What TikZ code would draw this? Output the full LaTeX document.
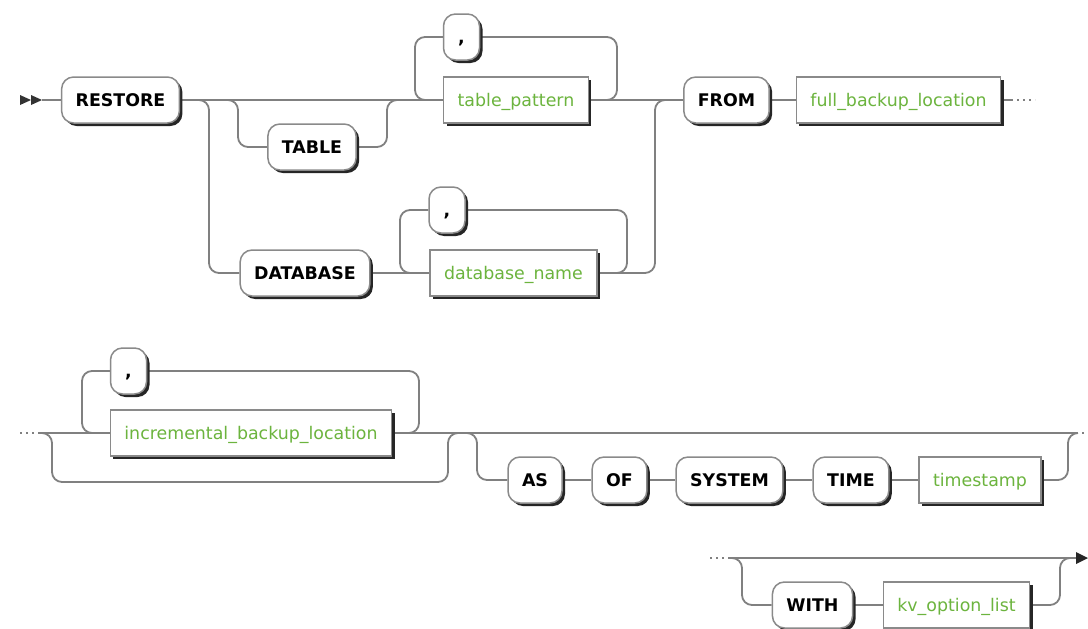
\documentclass[tikz,border=0pt]{standalone}
\usepackage{fontspec}
\setmainfont{DejaVu Sans}
\usepackage{tikz}
\usetikzlibrary{
    shadows,      % Box shadows
    backgrounds   % Tracks behind the boxes
}
\definecolor{TrackGray}{RGB}{128, 128, 128}
\definecolor{BoxGray}{RGB}{138, 138, 138}
\definecolor{NameGreen}{RGB}{108, 180, 62}

\begin{document}
\begin{tikzpicture}[x=1pt, y=-1pt,
    track/.style={draw=TrackGray, line width=1.8pt, rounded corners=10pt},
    cont/.style={draw=TrackGray, line width=1.8pt, dash pattern=on 2pt off 4pt},
    kw/.style={draw=BoxGray, line width=1.5pt, fill=white, rounded corners=12pt,
        minimum height=46pt, inner xsep=14pt, text height=12.6pt, text depth=0pt,
        font=\fontsize{17.4}{20}\selectfont\bfseries,
        general shadow={fill=black!85, shadow xshift=3pt, shadow yshift=-3pt}},
    nt/.style={kw, rounded corners=0pt, text=NameGreen,
        font=\fontsize{17.4}{20}\selectfont},
    sepbox/.style={kw, minimum width=36pt, inner xsep=0pt}]
    \useasboundingbox (0,0) rectangle (1088,629);

    % First line
    \fill[black!80] (20,95) -- (31,100) -- (20,105) -- cycle;
    \fill[black!80] (31,95) -- (42,100) -- (31,105) -- cycle;
    \coordinate (start1) at (42,100);
    \node[kw] (restore) at (120.5,100) {RESTORE};
    \node[kw] (table) at (312,147) {TABLE};
    \node[kw] (database) at (305,273) {DATABASE};
    \node[sepbox] (tpcomma) at (461.5,37) {,};
    \node[nt] (tpattern) at (516,100) {table\_pattern};
    \node[sepbox] (dbcomma) at (447,210) {,};
    \node[nt] (dbname) at (513.5,273) {database\_name};
    \node[kw] (from) at (726.5,100) {FROM};
    \node[nt] (fullbk) at (898.5,100) {full\_backup\_location};

    % Second line
    \coordinate (start2) at (38,433);
    \coordinate (join2) at (462,433);
    \coordinate (end2) at (1078,433);
    \node[sepbox] (inccomma) at (128.5,371) {,};
    \node[nt] (incbk) at (251,433) {incremental\_backup\_location};
    \node[kw] (as) at (535,480) {AS};
    \node[kw] (of) at (619.5,480) {OF};
    \node[kw] (system) at (729.5,480) {SYSTEM};
    \node[kw] (time) at (851,480) {TIME};
    \node[nt] (tstamp) at (980,480) {timestamp};

    % Third line
    \coordinate (start3) at (728,558);
    \coordinate (end3) at (1076,558);
    \node[kw] (with) at (812.5,605) {WITH};
    \node[nt] (kvopt) at (956.5,605) {kv\_option\_list};
    \fill[black!85] (1076,552) -- (1088,558) -- (1076,564) -- cycle;

    \begin{scope}[on background layer]
        % RESTORE [TABLE] table_pattern, ... | DATABASE database_name, ...
        \draw[track] (start1) -- (restore.west);
        \draw[track] (restore.east) -- (tpattern.west);
        \draw[track] (restore.east) -| (238,147) -- (table.west);
        \draw[track] (table.east) -| (387,100) -- (tpattern.west);
        \draw[track] (tpattern.east) -| (617,37) -- (tpcomma.east);
        \draw[track] (tpcomma.west) -| (415,100) -- (tpattern.west);
        \draw[track] (restore.east) -| (209,273) -- (database.west);
        \draw[track] (database.east) -- (dbname.west);
        \draw[track] (dbname.east) -| (627,210) -- (dbcomma.east);
        \draw[track] (dbcomma.west) -| (400,273) -- (dbname.west);
        \draw[track] (tpattern.east) -- (from.west);
        \draw[track] (dbname.east) -| (655,100) -- (from.west);
        \draw[track] (from.east) -- (fullbk.west);
        \draw[track] (fullbk.east) -- ++(12,0) coordinate (end1);
        \draw[cont] ([xshift=4pt]end1) -- ++(18,0);

        % incremental locations, AS OF SYSTEM TIME
        \draw[cont] (20,433) -- (start2);
        \draw[track] (start2) -- (incbk.west);
        \draw[track] (incbk.east) -| (419,371) -- (inccomma.east);
        \draw[track] (inccomma.west) -| (82,433) -- (incbk.west);
        \draw[track] (start2) -| (52,482) -| (448,433) -- (join2);
        \draw[track] (incbk.east) -- (end2);
        \draw[track] (incbk.east) -| (477,480) -- (as.west);
        \draw[track] (as.east) -- (of.west);
        \draw[track] (of.east) -- (system.west);
        \draw[track] (system.east) -- (time.west);
        \draw[track] (time.east) -- (tstamp.west);
        \draw[track] (tstamp.east) -| (1068,433) -- (end2);
        \draw[cont] ([xshift=4pt]end2) -- ++(18,0);

        % WITH options
        \draw[cont] (710,558) -- (start3);
        \draw[track] (start3) -- (end3);
        \draw[track] (start3) -| (742,605) -- (with.west);
        \draw[track] (with.east) -- (kvopt.west);
        \draw[track] (kvopt.east) -| (1060,558) -- (end3);
    \end{scope}
\end{tikzpicture}
\end{document}
